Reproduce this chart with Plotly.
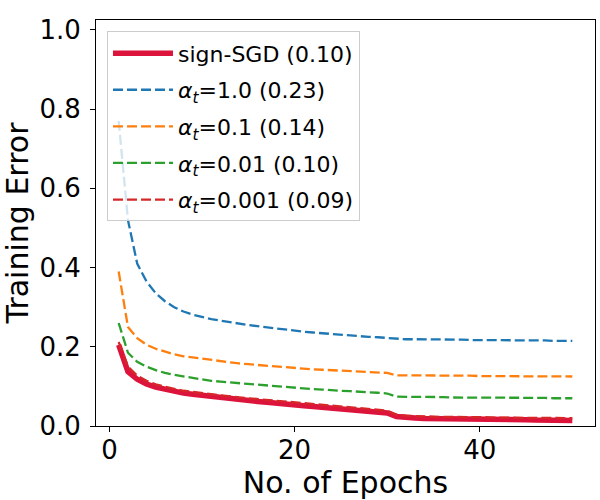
import plotly.graph_objects as go

# Epochs and training error curves
epochs = list(range(1, 51))

sign_sgd = [0.205, 0.137, 0.118, 0.106, 0.098, 0.092, 0.087, 0.083, 0.080, 0.077,
            0.074, 0.071, 0.069, 0.066, 0.064, 0.062, 0.060, 0.057, 0.055, 0.053,
            0.051, 0.049, 0.047, 0.046, 0.044, 0.042, 0.040, 0.038, 0.036, 0.033,
            0.024, 0.021, 0.020, 0.019, 0.019, 0.018, 0.018, 0.018, 0.017, 0.017,
            0.017, 0.016, 0.016, 0.016, 0.016, 0.015, 0.015, 0.015, 0.015, 0.014]

alpha_1 = [0.770, 0.520, 0.410, 0.365, 0.335, 0.315, 0.300, 0.289, 0.281, 0.275,
           0.270, 0.266, 0.262, 0.258, 0.255, 0.252, 0.249, 0.246, 0.243, 0.240,
           0.238, 0.236, 0.234, 0.232, 0.230, 0.228, 0.227, 0.225, 0.224, 0.222,
           0.220, 0.219, 0.219, 0.219, 0.218, 0.218, 0.218, 0.218, 0.217, 0.217,
           0.217, 0.217, 0.216, 0.216, 0.216, 0.216, 0.216, 0.215, 0.215, 0.215]

alpha_01 = [0.390, 0.250, 0.222, 0.205, 0.195, 0.187, 0.181, 0.176, 0.173, 0.170,
            0.166, 0.163, 0.160, 0.158, 0.156, 0.154, 0.152, 0.150, 0.148, 0.146,
            0.145, 0.143, 0.142, 0.141, 0.139, 0.138, 0.137, 0.136, 0.135, 0.134,
            0.128, 0.128, 0.128, 0.128, 0.127, 0.127, 0.127, 0.127, 0.127, 0.126,
            0.126, 0.126, 0.126, 0.126, 0.126, 0.125, 0.125, 0.125, 0.125, 0.125]

alpha_001 = [0.260, 0.185, 0.162, 0.150, 0.141, 0.134, 0.129, 0.125, 0.121, 0.117,
             0.114, 0.112, 0.110, 0.108, 0.106, 0.104, 0.102, 0.100, 0.098, 0.096,
             0.094, 0.093, 0.092, 0.090, 0.089, 0.088, 0.086, 0.085, 0.084, 0.082,
             0.074, 0.074, 0.073, 0.073, 0.073, 0.073, 0.072, 0.072, 0.072, 0.072,
             0.072, 0.071, 0.071, 0.071, 0.071, 0.071, 0.071, 0.070, 0.070, 0.070]

alpha_0001 = [0.212, 0.150, 0.127, 0.114, 0.105, 0.099, 0.094, 0.089, 0.086, 0.083,
              0.080, 0.077, 0.075, 0.072, 0.070, 0.068, 0.066, 0.063, 0.061, 0.059,
              0.057, 0.055, 0.053, 0.052, 0.050, 0.048, 0.046, 0.044, 0.042, 0.039,
              0.029, 0.026, 0.025, 0.024, 0.024, 0.023, 0.023, 0.023, 0.022, 0.022,
              0.022, 0.021, 0.021, 0.021, 0.021, 0.020, 0.020, 0.020, 0.020, 0.020]

alpha_t = "<i>α</i><sub><i>t</i></sub>"
dashed = [
    (alpha_1, f"{alpha_t}=1.0 (0.23)", "#1f77b4"),
    (alpha_01, f"{alpha_t}=0.1 (0.14)", "#ff7f0e"),
    (alpha_001, f"{alpha_t}=0.01 (0.10)", "#2ca02c"),
    (alpha_0001, f"{alpha_t}=0.001 (0.09)", "#d62728"),
]

fig = go.Figure()

fig.add_trace(go.Scatter(
    x=epochs, y=sign_sgd, mode="lines", name="sign-SGD (0.10)",
    line=dict(color="crimson", width=5.5), legendgroup="s"
))

for i, (vals, label, color) in enumerate(dashed):
    fig.add_trace(go.Scatter(
        x=epochs, y=vals, mode="lines", name=label,
        line=dict(color=color, width=2.3, dash="10px,4px"),
        legendgroup=f"d{i}"
    ))

axis_style = dict(
    showline=True, linecolor="black", linewidth=1, mirror=True,
    ticks="outside", ticklen=5, tickcolor="black",
    showgrid=False, zeroline=False, automargin=False,
    tickfont=dict(size=26, color="black"),
)

fig.update_layout(
    width=600, height=500,
    margin=dict(l=96, r=5, t=20, b=74),
    paper_bgcolor="white", plot_bgcolor="white",
    font=dict(family="DejaVu Sans", color="black"),
    showlegend=True,
    legend=dict(
        x=0.022, y=0.972, xanchor="left", yanchor="top",
        bgcolor="rgba(255,255,255,0.8)", bordercolor="#cccccc", borderwidth=1,
        font=dict(size=22, color="black"), tracegroupgap=5, itemwidth=60,
    ),
    xaxis=dict(axis_style, range=[-1.45, 52.45], tickvals=[0, 20, 40],
               ticklabelstandoff=-4,
               title=dict(text="No. of Epochs", font=dict(size=30), standoff=0)),
    yaxis=dict(axis_style, range=[0, 1.025], tickvals=[0, 0.2, 0.4, 0.6, 0.8, 1.0],
               tickformat=".1f", ticklabelstandoff=4,
               title=dict(text="Training Error", font=dict(size=30), standoff=6)),
)

# drop the browser's default page margin so the figure sits at the window corner
fig.write_html("out.html", config={"displayModeBar": False},
               post_script="document.body.style.margin='0';")
